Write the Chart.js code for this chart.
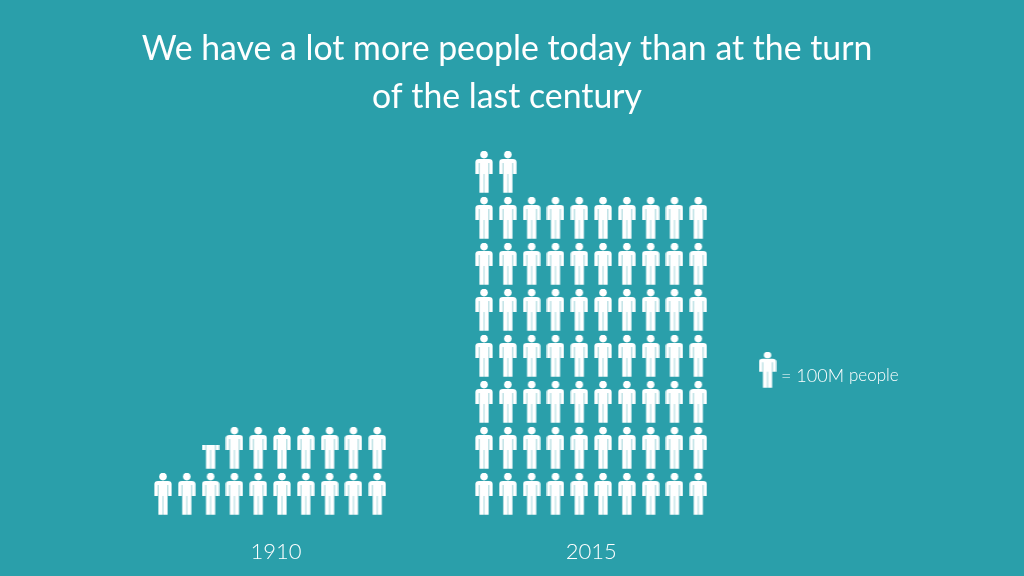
<!DOCTYPE html>
<html><head><meta charset="utf-8">
<style>html,body{margin:0;padding:0;background:#2a9faa}#w{width:1024px;height:576px}</style>
<script src="https://cdn.jsdelivr.net/npm/chart.js@4"></script></head>
<body><div id="w"><canvas id="c" width="1024" height="576"></canvas></div>
<script>
const titleLines = ["We have a lot more people today than at the turn", "of the last century"];
const categories = ["1910", "2015"];
const iconsPerGroup = [17.57, 72];
const legendText = "= 100M ";
const legendUnit = "people";
const rowLength = 10;
const groupStartColumn = [1, 14.49];
const labelColumn = [5.748, 18.99];
const legendColumn = 26.4;
const legendRow = 2.696;

function person(visible,ys){
  const w=18,h=Math.round(42*ys),c=document.createElement('canvas');c.width=w;c.height=h;
  const g=c.getContext('2d');
  g.beginPath();g.rect(0,h*(1-visible),w,h*visible);g.clip();
  g.scale(1,ys);
  g.fillStyle='#fff';
  g.beginPath();g.arc(9,3.6,3.8,0,Math.PI*2);g.fill();
  g.beginPath();
  g.moveTo(.4,23);g.lineTo(.4,11);g.quadraticCurveTo(.4,7.9,4,7.9);
  g.lineTo(14,7.9);g.quadraticCurveTo(17.6,7.9,17.6,11);g.lineTo(17.6,23);
  g.lineTo(13.6,23);g.lineTo(13.6,41.7);g.lineTo(4.4,41.7);g.lineTo(4.4,23);
  g.closePath();g.fill();
  g.globalCompositeOperation='destination-out';
  g.fillStyle='rgba(0,0,0,.5)';
  g.fillRect(3.7,12,.9,11);g.fillRect(13.4,12,.9,11);
  g.fillStyle='rgba(0,0,0,.4)';
  g.fillRect(8.5,23,1,19);
  return c;
}
const fullIcon=person(1,1);
const keyIcon=person(1,36/42);

function groupPoints(count,start,rightAlign){
  const pts=[],styles=[];
  const whole=Math.floor(count),frac=count-whole;
  const total=Math.ceil(count);
  for(let i=0;i<total;i++){
    const row=Math.floor(i/rowLength);
    let col=i%rowLength;
    if(rightAlign) col=rowLength-1-col;
    pts.push({x:start+col,y:row});
    styles.push(i===total-1&&frac>0?person(frac,1):fullIcon);
  }
  return {pts,styles};
}
const g1=groupPoints(iconsPerGroup[0],groupStartColumn[0],true);
const g2=groupPoints(iconsPerGroup[1],groupStartColumn[1],false);

const legendPlugin={id:'legendNote',afterDatasetsDraw(ch){
  const x=ch.scales.x.getPixelForValue(legendColumn)+13.5,y=ch.scales.y.getPixelForValue(legendRow)+6;
  const t=ch.ctx;t.save();t.fillStyle='#fff';t.textBaseline='middle';t.textAlign='left';
  t.font='300 18px Lato';t.fillText(legendText,x,y);
  const w=t.measureText(legendText).width;
  t.font='300 17px Lato';t.fillText(legendUnit,x+w,y);t.restore();
}};

new Chart(document.getElementById('c'),{
  type:'scatter',
  data:{datasets:[
    {label:categories[0],data:g1.pts,pointStyle:g1.styles,pointRadius:9,pointHoverRadius:9},
    {label:categories[1],data:g2.pts,pointStyle:g2.styles,pointRadius:9,pointHoverRadius:9},
    {label:'key',data:[{x:legendColumn,y:legendRow}],pointStyle:keyIcon,pointRadius:9}
  ]},
  options:{
    responsive:false,animation:false,
    layout:{padding:{right:10},autoPadding:false},
    plugins:{
      legend:{display:false},tooltip:{enabled:false},
      title:{display:true,text:titleLines,color:'#fff',align:'center',
        font:{family:'Lato',size:33.8,weight:'400',lineHeight:48/33.8},
        padding:{top:25,bottom:9}}
    },
    scales:{
      x:{type:'linear',min:1-163/23.8,max:1+(1014-163)/23.8,
        grid:{display:false,drawTicks:false},border:{display:false},
        afterBuildTicks(s){s.ticks=labelColumn.map(v=>({value:v}));},
        afterFit(s){s.height=44;s.paddingLeft=0;s.paddingRight=0;},
        ticks:{autoSkip:false,maxRotation:0,color:'#fff',padding:7,font:{family:'Lato',size:22,weight:'300'},
          callback(v){return categories[labelColumn.indexOf(v)];}}},
      y:{type:'linear',display:false,min:-38/46,max:364/46}
    }
  },
  plugins:[legendPlugin]
});
</script></body></html>
